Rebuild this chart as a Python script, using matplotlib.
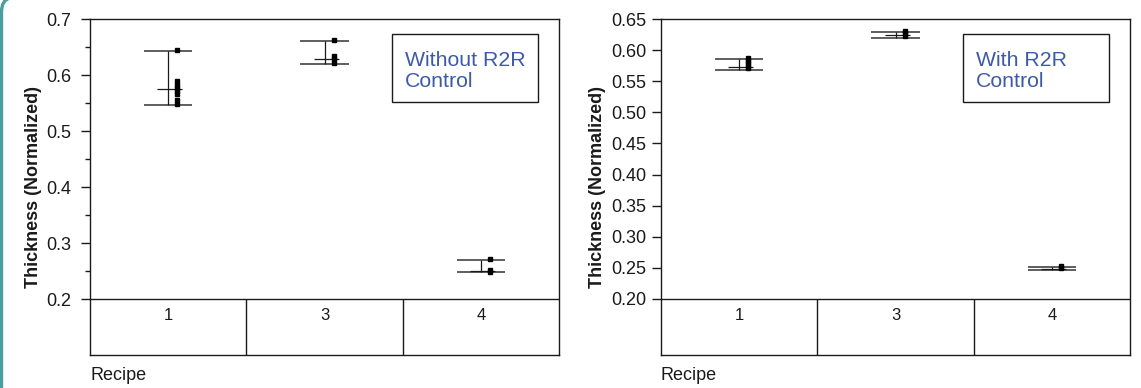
import numpy as np
import matplotlib
matplotlib.use('Agg')
import matplotlib.pyplot as plt
from matplotlib.patches import Rectangle, PathPatch
from matplotlib.path import Path

plt.rcParams['font.family'] = ['Liberation Sans', 'DejaVu Sans']

# Data
recipes = ['1', '3', '4']

wo_points = [[0.644, 0.589, 0.583, 0.577, 0.571, 0.566, 0.556, 0.549],
             [0.663, 0.634, 0.628, 0.622],
             [0.272, 0.251, 0.249]]
wo_upper = [0.642, 0.661, 0.269]
wo_lower = [0.547, 0.619, 0.248]
wo_mean = [0.5745, 0.628, 0.250]

w_points = [[0.588, 0.583, 0.579, 0.575, 0.571],
            [0.631, 0.627, 0.623],
            [0.253, 0.249]]
w_upper = [0.5855, 0.6285, 0.2511]
w_lower = [0.5683, 0.6198, 0.2468]
w_mean = [0.5726, 0.6247, 0.2479]

line_col = '#1a1a1a'
text_blue = '#3d5aa9'


def draw_panel(ax, points, upper, lower, mean, ylim, major, minor, fmt, label, tick_pad):
    x = np.arange(len(recipes))
    ax.set_xlim(-0.5, len(recipes) - 0.5)
    ax.set_ylim(*ylim)

    # range bars
    ax.hlines(upper, x - 0.154, x + 0.154, color='#333333', lw=1.1, zorder=2)
    ax.hlines(lower, x - 0.154, x + 0.154, color='#333333', lw=1.1, zorder=2)
    ax.vlines(x, lower, upper, color=line_col, lw=0.9, zorder=2)
    ax.hlines(mean, x - 0.07, x + 0.09, color=line_col, lw=0.9, zorder=2)
    for i, pts in enumerate(points):
        ax.plot([x[i] + 0.058] * len(pts), pts, ls='none', marker='s', ms=3,
                color='black', mec='black', zorder=3)

    # table under the plot
    base = major[0]
    ax.axhline(base, color=line_col, lw=1.0)
    ax.vlines(x[:-1] + 0.5, ylim[0], base, color=line_col, lw=1.0)
    for i, r in enumerate(recipes):
        ax.text(x[i], 0.119, r, transform=ax.get_xaxis_transform(),
                ha='center', va='center', fontsize=12, color='#1a1a1a')

    ax.set_xticks([])
    ax.set_yticks(major)
    ax.set_yticklabels([fmt.format(v) for v in major])
    if minor is not None:
        ax.set_yticks(minor, minor=True)
    ax.tick_params(axis='y', which='major', length=6.5, width=1.0, labelsize=13,
                   pad=tick_pad, color=line_col, labelcolor='#1a1a1a')
    ax.tick_params(axis='y', which='minor', length=3.6, width=1.0, color=line_col)
    for s in ax.spines.values():
        s.set_color(line_col)
        s.set_linewidth(1.0)

    ax.set_ylabel('Thickness (Normalized)', fontsize=13, fontweight='bold',
                  color='#1a1a1a')
    ax.text(0.0, -0.06, 'Recipe', transform=ax.transAxes, ha='left', va='center',
            fontsize=13, color='#1a1a1a')

    # label box
    ax.add_patch(Rectangle((0.644, 0.753), 0.311, 0.202, transform=ax.transAxes,
                           fill=False, ec=line_col, lw=1.0, zorder=4))
    l1, l2 = label
    ax.text(0.672, 0.861, l1, transform=ax.transAxes, ha='left', va='baseline',
            fontsize=15.3, color=text_blue)
    ax.text(0.672, 0.798, l2, transform=ax.transAxes, ha='left', va='baseline',
            fontsize=15.3, color=text_blue)


fig = plt.figure(figsize=(11.41, 3.88), dpi=100)
ax1 = fig.add_axes([90 / 1141, 33 / 388, 469 / 1141, 336 / 388])
ax2 = fig.add_axes([661 / 1141, 33 / 388, 469 / 1141, 336 / 388])

draw_panel(ax1, wo_points, wo_upper, wo_lower, wo_mean,
           (0.1, 0.7), np.round(np.arange(0.2, 0.71, 0.1), 2),
           np.round(np.arange(0.25, 0.70, 0.1), 2), '{:.1f}',
           ('Without R2R', 'Control'), 7)
draw_panel(ax2, w_points, w_upper, w_lower, w_mean,
           (0.2 - 56 / 31.1 * 0.05, 0.65), np.round(np.arange(0.2, 0.651, 0.05), 2),
           None, '{:.2f}', ('With R2R', 'Control'), 4.3)

ax1.yaxis.set_label_coords(-0.103, 0.5)
ax2.yaxis.set_label_coords(-0.118, 0.5)

# teal edge on the left
verts = [(0.015, 0.0), (0.015, 3.76), (0.015, 3.88), (0.10, 3.90)]
codes = [Path.MOVETO, Path.LINETO, Path.CURVE3, Path.CURVE3]
fig.add_artist(PathPatch(Path(verts, codes), transform=fig.dpi_scale_trans,
                         fill=False, ec='#4a9e9c', lw=2.4))

fig.savefig('out.png', dpi=100)
